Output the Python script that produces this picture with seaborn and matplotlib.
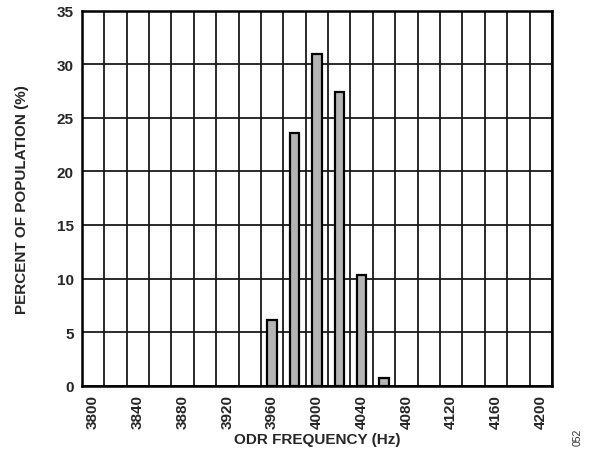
from matplotlib import pyplot as plt
import numpy as np
import pandas as pd
import seaborn as sns

frequency_hz = [3960, 3980, 4000, 4020, 4040, 4060]
percent_population = [6.1, 23.6, 31.0, 27.4, 10.3, 0.7]
x_tick_labels = [3800, 3840, 3880, 3920, 3960, 4000, 4040, 4080, 4120, 4160, 4200]

sns.set_style('white')
plt.rcParams['font.family'] = ['Liberation Sans', 'DejaVu Sans']

data = pd.DataFrame({'frequency': frequency_hz, 'percent': percent_population})

fig = plt.figure(figsize=(5.89, 4.52), dpi=100)
ax = fig.add_axes([0.139, 0.1445, 0.798, 0.8295])

# grid goes behind the bars
ax.set_axisbelow(True)
ax.set_xticks(np.arange(3790, 4211, 20), minor=True)
ax.set_yticks(np.arange(0, 36, 5))
ax.grid(True, which='minor', axis='x', color='#1a1a1a', linewidth=1.3)
ax.grid(True, which='major', axis='y', color='#1a1a1a', linewidth=1.3)

sns.barplot(data=data, x='frequency', y='percent', native_scale=True, width=0.425,
            color='#b4b4b4', edgecolor='black', linewidth=1.6, saturation=1, ax=ax)

ax.set_xlim(3790, 4210)
ax.set_ylim(0, 35)
ax.set_xticks(x_tick_labels)
ax.set_xticklabels([str(v) for v in x_tick_labels], rotation=90, fontsize=11, fontweight='bold')
ax.tick_params(axis='y', labelsize=11)
for label in ax.get_yticklabels():
    label.set_fontweight('bold')
ax.tick_params(which='both', length=0, pad=6)

ax.set_xlabel('ODR FREQUENCY (Hz)', fontsize=11, fontweight='bold', labelpad=3)
ax.set_ylabel('PERCENT OF POPULATION (%)', fontsize=11, fontweight='bold', labelpad=20)

for spine in ax.spines.values():
    spine.set_visible(True)
    spine.set_color('black')
    spine.set_linewidth(1.8)

fig.text(0.98, 0.032, '052', rotation=90, fontsize=7.5, color='#333333', ha='center', va='center')

fig.savefig('out.png', dpi=100)
